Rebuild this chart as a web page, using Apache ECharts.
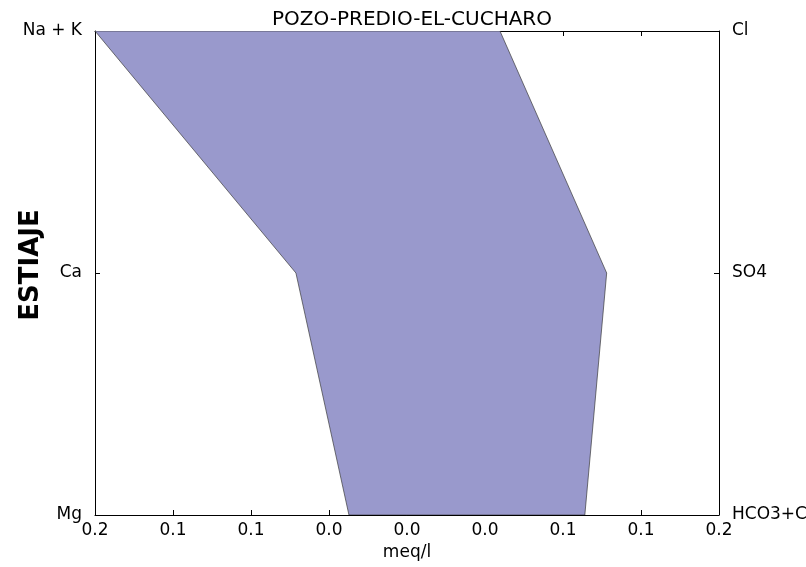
<!DOCTYPE html>
<html>
<head>
<meta charset="utf-8">
<script src="https://cdn.jsdelivr.net/npm/echarts@6/dist/echarts.min.js"></script>
<style>html,body{margin:0;padding:0;background:#fff}#c{width:806px;height:567px}</style>
</head>
<body>
<div id="c"></div>
<script>
var title = 'POZO-PREDIO-EL-CUCHARO';
var cations = ['Na + K', 'Ca', 'Mg'];
var anions = ['Cl', 'SO4', 'HCO3+CO3'];
var cationValues = [0.2, 0.0712, 0.0372];
var anionValues = [0.0596, 0.128, 0.114];
var xTickLabels = ['0.2', '0.1', '0.1', '0.0', '0.0', '0.0', '0.1', '0.1', '0.2'];
var sideLabel = 'ESTIAJE';
var xLabel = 'meq/l';

var poly = [];
for (var i = 0; i < cations.length; i++) poly.push([-cationValues[i], i]);
for (var j = anions.length - 1; j >= 0; j--) poly.push([anionValues[j], j]);

var font = 'DejaVu Sans';
var fs = 17;
var chart = echarts.init(document.getElementById('c'));
var xFmt = function (v) { var k = Math.round((v + 0.2) / 0.05); return xTickLabels[k] !== undefined ? xTickLabels[k] : ''; };
chart.setOption({
  animation: false,
  title: {text: title, left: 407, textAlign: 'center', top: 5,
    textStyle: {fontFamily: font, fontSize: 20, fontWeight: 'normal', color: '#000'}},
  graphic: [{type: 'text', x: 31, y: 265, rotation: Math.PI / 2,
    style: {text: sideLabel, font: 'bold 26px "DejaVu Sans"', fill: '#000', textAlign: 'center', textVerticalAlign: 'middle'}}],
  grid: {left: 95, right: 87, top: 31, bottom: 52, outerBoundsMode: 'none', containLabel: false},
  xAxis: [
    {type: 'value', position: 'bottom', min: -0.2, max: 0.2, interval: 0.05,
      name: xLabel, nameLocation: 'middle', nameGap: 28,
      nameTextStyle: {fontFamily: font, fontSize: fs, color: '#000'},
      axisLine: {show: true, onZero: false, lineStyle: {color: '#000', width: 1}},
      axisTick: {show: true, inside: true, length: 5, lineStyle: {color: '#000'}},
      axisLabel: {formatter: xFmt, fontFamily: font, fontSize: fs, color: '#000', margin: 7},
      splitLine: {show: false}},
    {type: 'value', position: 'top', min: -0.2, max: 0.2, interval: 0.05,
      axisLine: {show: true, onZero: false, lineStyle: {color: '#000', width: 1}},
      axisTick: {show: true, inside: true, length: 5, lineStyle: {color: '#000'}},
      axisLabel: {show: false}, splitLine: {show: false}}
  ],
  yAxis: [
    {type: 'value', position: 'left', min: 0, max: 2, interval: 1, inverse: true,
      axisLine: {show: true, onZero: false, lineStyle: {color: '#000', width: 1}},
      axisTick: {show: true, inside: true, length: 5, lineStyle: {color: '#000'}},
      axisLabel: {formatter: function (v) { return cations[Math.round(v)] || ''; },
        fontFamily: font, fontSize: fs, color: '#000', margin: 13},
      splitLine: {show: false}},
    {type: 'value', position: 'right', min: 0, max: 2, interval: 1, inverse: true,
      axisLine: {show: true, onZero: false, lineStyle: {color: '#000', width: 1}},
      axisTick: {show: true, inside: true, length: 5, lineStyle: {color: '#000'}},
      axisLabel: {formatter: function (v) { return anions[Math.round(v)] || ''; },
        fontFamily: font, fontSize: fs, color: '#000', margin: 13},
      splitLine: {show: false}}
  ],
  series: [{
    type: 'custom', xAxisIndex: 0, yAxisIndex: 0,
    data: [0],
    clip: true,
    renderItem: function (params, api) {
      var pts = poly.map(function (p) { return api.coord(p); });
      return {type: 'polygon', shape: {points: pts},
        style: {fill: '#9999cc', stroke: 'rgba(60,60,60,0.7)', lineWidth: 1}};
    },
    z: 1
  }]
});
</script>
</body>
</html>
